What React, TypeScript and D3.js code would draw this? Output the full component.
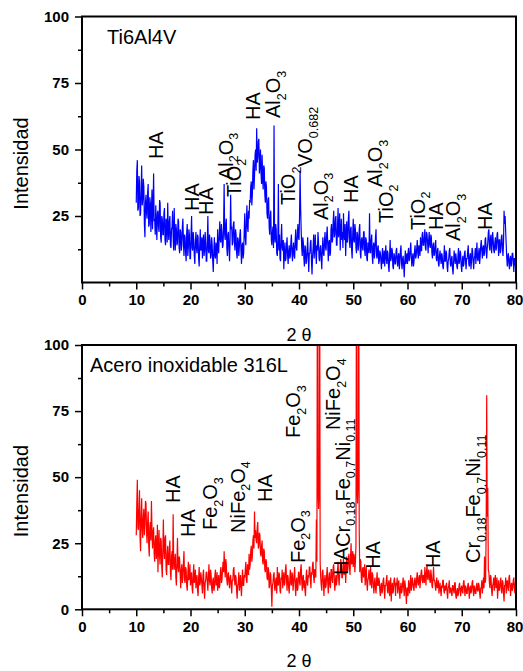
import React, { useEffect, useRef } from 'react';
import * as d3 from 'd3';

// 2θ grid of the digitised patterns
const THETA_START = 10;
const THETA_STEP = 0.1;

// Ti6Al4V intensities, one row per degree (10.0 .. 80.0)
const ti6al4v = [
  30, 42, 46, 27, 28, 40, 38, 25, 26, 35,
  44, 29, 31, 39, 36, 22, 17, 30, 33, 26,
  24, 34, 37, 21, 22, 32, 30, 19, 27, 35,
  20, 28, 41, 23, 24, 18, 29, 22, 16, 26,
  27, 21, 19, 31, 30, 17, 15, 25, 24, 18,
  18, 26, 28, 16, 14, 24, 22, 15, 30, 20,
  16, 23, 25, 14, 13, 20, 21, 27, 17, 12,
  28, 16, 12, 22, 20, 14, 15, 24, 23, 13,
  11, 20, 19, 12, 14, 21, 24, 15, 10, 18,
  17, 11, 8, 19, 22, 10, 13, 20, 18, 9,
  9, 18, 25, 13, 12, 19, 16, 10, 7, 15,
  19, 13, 11, 18, 17, 9, 6, 14, 20, 12,
  13, 17, 9, 15, 18, 10, 12, 19, 15, 8,
  8, 16, 25, 12, 11, 18, 16, 9, 10, 17,
  14, 8, 4, 12, 17, 10, 9, 15, 13, 7,
  20, 14, 11, 18, 23, 16, 15, 22, 19, 13,
  14, 21, 37, 18, 16, 22, 24, 13, 10, 18,
  19, 12, 8, 17, 33, 20, 21, 14, 15, 22,
  23, 15, 12, 20, 18, 11, 9, 17, 16, 10,
  13, 18, 20, 12, 7, 14, 15, 9, 11, 19,
  26, 17, 14, 23, 29, 21, 19, 27, 24, 31,
  30, 36, 38, 29, 33, 42, 46, 35, 40, 48,
  50, 42, 58, 45, 47, 53, 54, 41, 44, 50,
  41, 37, 48, 39, 35, 44, 43, 33, 30, 38,
  36, 26, 24, 31, 32, 21, 18, 25, 27, 16,
  14, 19, 21, 13, 59, 17, 15, 22, 20, 11,
  10, 16, 37, 12, 18, 9, 8, 17, 22, 13,
  12, 16, 5, 11, 15, 8, 9, 14, 17, 10,
  7, 12, 14, 9, 10, 15, 18, 11, 8, 13,
  15, 10, 9, 16, 20, 13, 12, 18, 22, 17,
  16, 25, 42, 28, 20, 13, 10, 17, 15, 9,
  6, 14, 13, 7, 8, 12, 17, 10, 4, 11,
  11, 15, 16, 8, 3, 10, 13, 18, 9, 14,
  18, 11, 7, 14, 12, 19, 15, 9, 8, 13,
  14, 9, 5, 12, 17, 11, 10, 16, 19, 13,
  12, 18, 21, 14, 8, 15, 16, 10, 11, 20,
  22, 15, 16, 23, 27, 17, 18, 24, 25, 14,
  14, 21, 28, 17, 20, 26, 12, 19, 24, 16,
  19, 13, 26, 18, 16, 22, 10, 17, 23, 15,
  17, 24, 27, 15, 13, 20, 21, 12, 9, 18,
  24, 16, 15, 22, 20, 13, 11, 19, 18, 12,
  14, 20, 22, 11, 9, 16, 17, 13, 12, 19,
  19, 12, 10, 17, 16, 9, 8, 15, 14, 11,
  26, 13, 11, 16, 18, 10, 7, 14, 15, 9,
  12, 17, 20, 10, 9, 13, 14, 7, 8, 12,
  11, 8, 5, 10, 13, 7, 9, 12, 6, 10,
  14, 9, 7, 12, 11, 6, 4, 10, 16, 8,
  9, 13, 12, 6, 5, 11, 10, 7, 7, 12,
  13, 8, 6, 10, 11, 5, 8, 12, 14, 7,
  5, 9, 10, 6, 2, 8, 12, 7, 9, 11,
  7, 11, 13, 8, 9, 12, 15, 10, 6, 9,
  11, 6, 8, 12, 14, 9, 10, 13, 16, 11,
  9, 14, 13, 10, 17, 12, 12, 18, 19, 14,
  14, 17, 20, 13, 12, 19, 18, 15, 11, 16,
  19, 14, 13, 18, 17, 11, 9, 14, 15, 10,
  11, 14, 16, 9, 8, 12, 13, 7, 6, 10,
  12, 9, 7, 11, 10, 6, 5, 9, 14, 8,
  8, 12, 11, 6, 4, 8, 9, 12, 13, 7,
  6, 9, 10, 5, 3, 8, 12, 9, 7, 11,
  9, 6, 5, 10, 13, 7, 8, 12, 11, 6,
  4, 8, 10, 6, 7, 11, 12, 8, 5, 9,
  9, 12, 14, 7, 6, 10, 11, 5, 8, 13,
  12, 8, 5, 9, 10, 13, 7, 11, 15, 9,
  8, 11, 13, 7, 10, 14, 16, 12, 9, 13,
  14, 10, 11, 16, 17, 12, 9, 13, 15, 19,
  20, 13, 12, 17, 18, 11, 14, 19, 16, 12,
  11, 15, 17, 12, 13, 18, 19, 14, 10, 16,
  16, 11, 12, 17, 18, 13, 10, 15, 27, 22,
  25, 19, 14, 9, 6, 10, 11, 7, 5, 9,
  10, 6, 7, 11, 11, 8, 4, 9, 9, 6,
  8,
];

// Acero inoxidable 316L intensities (10.0 .. 80.0)
const acero316L = [
  28, 40, 49, 31, 30, 38, 45, 27, 22, 36,
  42, 30, 27, 35, 38, 28, 32, 41, 40, 29,
  25, 33, 37, 24, 20, 31, 33, 26, 41, 30,
  23, 29, 31, 21, 18, 26, 28, 19, 22, 32,
  14, 24, 30, 20, 17, 27, 26, 16, 12, 23,
  34, 22, 19, 27, 28, 15, 13, 21, 24, 17,
  17, 23, 26, 14, 11, 20, 22, 15, 36, 18,
  15, 19, 21, 12, 9, 18, 27, 16, 14, 20,
  19, 13, 8, 15, 17, 10, 12, 18, 22, 11,
  10, 16, 15, 9, 7, 13, 18, 11, 12, 17,
  9, 12, 14, 8, 6, 13, 17, 10, 11, 15,
  8, 11, 13, 7, 5, 12, 16, 9, 10, 14,
  12, 9, 6, 13, 15, 8, 4, 10, 11, 14,
  14, 10, 7, 12, 17, 11, 9, 15, 13, 8,
  6, 11, 12, 7, 8, 13, 15, 9, 10, 14,
  7, 10, 13, 8, 9, 14, 16, 10, 11, 15,
  18, 14, 22, 16, 12, 19, 17, 11, 9, 13,
  14, 10, 8, 12, 13, 9, 6, 11, 11, 15,
  16, 11, 9, 13, 12, 7, 4, 9, 10, 14,
  7, 10, 13, 8, 5, 12, 15, 9, 9, 13,
  12, 15, 18, 11, 10, 17, 16, 13, 21, 15,
  17, 22, 24, 18, 20, 26, 28, 23, 37, 27,
  30, 26, 25, 31, 33, 23, 24, 29, 28, 21,
  20, 24, 26, 18, 17, 23, 22, 15, 14, 19,
  18, 12, 11, 16, 15, 8, 9, 14, 13, 7,
  1, 9, 10, 13, 14, 8, 7, 11, 12, 6,
  16, 10, 9, 14, 13, 7, 6, 12, 11, 15,
  8, 12, 14, 9, 10, 15, 17, 11, 7, 13,
  12, 8, 6, 11, 15, 10, 9, 14, 13, 7,
  10, 13, 16, 9, 5, 11, 12, 7, 8, 14,
  14, 10, 9, 15, 17, 11, 7, 12, 13, 8,
  11, 7, 5, 12, 15, 10, 9, 13, 12, 16,
  16, 11, 8, 14, 13, 17, 18, 12, 10, 15,
  15, 12, 34, 18, 150, 45, 38, 44, 150, 18,
  12, 9, 7, 14, 15, 10, 5, 11, 13, 8,
  9, 13, 16, 10, 6, 12, 14, 9, 8, 15,
  15, 11, 10, 16, 17, 12, 7, 10, 13, 9,
  11, 15, 18, 12, 9, 13, 14, 19, 17, 12,
  12, 16, 19, 13, 14, 18, 10, 15, 20, 14,
  15, 19, 21, 16, 13, 20, 25, 17, 18, 22,
  16, 21, 20, 14, 18, 24, 150, 45, 40, 48,
  150, 30, 14, 19, 18, 11, 10, 15, 16, 12,
  14, 17, 9, 13, 16, 10, 7, 11, 12, 15,
  12, 9, 16, 11, 8, 14, 13, 9, 6, 10,
  12, 8, 6, 11, 14, 9, 9, 12, 11, 7,
  5, 9, 10, 6, 7, 11, 12, 8, 4, 9,
  9, 11, 13, 7, 6, 10, 11, 5, 8, 12,
  3, 8, 10, 6, 7, 11, 12, 9, 5, 10,
  9, 12, 6, 9, 11, 7, 4, 8, 10, 6,
  7, 10, 12, 8, 5, 11, 9, 6, 2, 8,
  8, 5, 11, 9, 6, 10, 13, 7, 9, 12,
  10, 8, 7, 11, 12, 9, 8, 12, 14, 10,
  9, 12, 13, 8, 11, 14, 15, 11, 10, 13,
  12, 10, 16, 13, 9, 14, 17, 12, 11, 15,
  14, 11, 10, 15, 13, 9, 8, 12, 16, 11,
  11, 9, 7, 10, 12, 8, 9, 11, 6, 8,
  10, 7, 5, 9, 8, 11, 11, 7, 6, 9,
  7, 9, 10, 6, 4, 8, 9, 11, 6, 8,
  8, 6, 5, 9, 9, 7, 6, 10, 10, 5,
  4, 7, 8, 5, 6, 9, 10, 7, 5, 8,
  9, 7, 6, 10, 11, 8, 5, 9, 8, 6,
  6, 9, 10, 7, 4, 8, 9, 6, 7, 10,
  11, 7, 5, 9, 8, 6, 6, 9, 10, 7,
  7, 10, 9, 6, 4, 8, 8, 11, 6, 9,
  12, 8, 20, 10, 11, 30, 81, 35, 46, 15,
  14, 10, 8, 13, 12, 7, 5, 9, 10, 12,
  7, 11, 13, 8, 9, 12, 4, 8, 11, 7,
  8, 10, 12, 7, 6, 11, 10, 6, 3, 9,
  9, 12, 6, 10, 11, 8, 7, 12, 13, 9,
  5, 9, 10, 7, 8, 11, 12, 8, 6, 10,
  9,
];

const xTicks = [0, 10, 20, 30, 40, 50, 60, 70, 80];
const xMinorTicks = [5, 15, 25, 35, 45, 55, 65, 75];
const yTicksTop = [25, 50, 75, 100];
const yTicksBottom = [0, 25, 50, 75, 100];
const yMinorTicks = [12.5, 37.5, 62.5, 87.5];

// phase labels: 2θ and intensity where the rotated label starts
const tiPeaks = [
  { label: 'HA', theta: 14.9, y: 46.4 },
  { label: 'HA', theta: 21.6, y: 26.9 },
  { label: 'HA', theta: 24.1, y: 25.4 },
  { label: 'Al_{2}O_{3}', theta: 27.8, y: 38.5 },
  { label: 'TiO_{2}', theta: 29.3, y: 32.1 },
  { label: 'HA', theta: 32.8, y: 61.1 },
  { label: 'Al_{2}O_{3}', theta: 36.5, y: 61.8 },
  { label: 'TiO_{2}', theta: 39.3, y: 29.1 },
  { label: 'VO_{0.682}', theta: 42.4, y: 43.4 },
  { label: 'Al_{2}O_{3}', theta: 45.3, y: 23.5 },
  { label: 'HA', theta: 50.9, y: 29.9 },
  { label: 'Al_{2}O_{3}', theta: 55.3, y: 35.9 },
  { label: 'TiO_{2}', theta: 57.3, y: 22.4 },
  { label: 'TiO_{2}', theta: 63.2, y: 19.7 },
  { label: 'HA', theta: 66.5, y: 19.7 },
  { label: 'Al_{2}O_{3}', theta: 69.7, y: 15.6 },
  { label: 'HA', theta: 75.6, y: 19.7 },
];

const aceroPeaks = [
  { label: 'HA', theta: 18.1, y: 40.2 },
  { label: 'HA', theta: 20.8, y: 27.4 },
  { label: 'Fe_{2}O_{3}', theta: 24.9, y: 30.0 },
  { label: 'NiFe_{2}O_{4}', theta: 30.0, y: 28.9 },
  { label: 'HA', theta: 35.0, y: 40.6 },
  { label: 'Fe_{2}O_{3}', theta: 41.1, y: 17.5 },
  { label: 'Fe_{2}O_{3}', theta: 40.2, y: 64.8 },
  { label: 'NiFe_{2}O_{4}', theta: 47.6, y: 67.8 },
  { label: 'Cr_{0.18}Fe_{0.7}Ni_{0.11}', theta: 49.4, y: 23.6 },
  { label: 'HA', theta: 49.0, y: 13.0 },
  { label: 'HA', theta: 54.9, y: 15.3 },
  { label: 'HA', theta: 66.0, y: 15.6 },
  { label: 'Cr_{0.18}Fe_{0.7}Ni_{0.11}', theta: 73.4, y: 17.5 },
];

const panels = [
  { title: 'Ti6Al4V', values: ti6al4v, color: '#0000ff', peaks: tiPeaks, yTicks: yTicksTop, top: 16.5, bottom: 282.5, titleX: 107 },
  { title: 'Acero inoxidable 316L', values: acero316L, color: '#ff0000', peaks: aceroPeaks, yTicks: yTicksBottom, top: 345, bottom: 609.3, titleX: 90 },
];

const FONT = 'Arial, "Liberation Sans", Helvetica, sans-serif';

function splitLabel(label: string) {
  const out: { t: string; sub: boolean }[] = [];
  const re = /_\{([^}]*)\}|([^_]+)/g;
  let m: RegExpExecArray | null;
  while ((m = re.exec(label))) {
    if (m[1] !== undefined) out.push({ t: m[1], sub: true });
    else out.push({ t: m[2], sub: false });
  }
  return out;
}

function App() {
  const ref = useRef<SVGSVGElement>(null);

  useEffect(() => {
    const svg = d3.select(ref.current);
    svg.selectAll('*').remove();

    const x = d3.scaleLinear().domain([0, 80]).range([82, 516]);
    const defs = svg.append('defs');

    panels.forEach((p, i) => {
      const y = d3.scaleLinear().domain([0, 100]).range([p.bottom, p.top]);
      const g = svg.append('g');

      const clipId = `plot-clip-${i}`;
      defs.append('clipPath').attr('id', clipId)
        .append('rect')
        .attr('x', x(0)).attr('y', y(100))
        .attr('width', x(80) - x(0)).attr('height', y(0) - y(100));

      const line = d3.line<number>()
        .x((_, j) => x(THETA_START + j * THETA_STEP))
        .y(d => y(d));

      g.append('path')
        .datum(p.values)
        .attr('clip-path', `url(#${clipId})`)
        .attr('fill', 'none')
        .attr('stroke', p.color)
        .attr('stroke-width', 1.2)
        .attr('d', line);

      // x axis
      const xAxis = g.append('g')
        .attr('transform', `translate(0,${y(0)})`)
        .call(d3.axisBottom(x).tickValues(xTicks).tickSize(7).tickPadding(5).tickSizeOuter(0).tickFormat(d3.format('d')));
      g.append('g')
        .attr('transform', `translate(0,${y(0)})`)
        .call(d3.axisBottom(x).tickValues(xMinorTicks).tickSize(4).tickSizeOuter(0).tickFormat(() => ''));

      // y axis
      const yAxis = g.append('g')
        .attr('transform', `translate(${x(0)},0)`)
        .call(d3.axisLeft(y).tickValues(p.yTicks).tickSize(7).tickPadding(6).tickSizeOuter(0).tickFormat(d3.format('d')));
      g.append('g')
        .attr('transform', `translate(${x(0)},0)`)
        .call(d3.axisLeft(y).tickValues(yMinorTicks).tickSize(4).tickSizeOuter(0).tickFormat(() => ''));

      g.selectAll('.domain').remove();
      g.selectAll('.tick line').attr('stroke', '#000').attr('stroke-width', 1.5);
      [xAxis, yAxis].forEach(a => a.selectAll('text')
        .attr('fill', '#000')
        .style('font-family', FONT)
        .style('font-size', '15px')
        .style('font-weight', 'bold'));
      // keep the last x label inside the page
      xAxis.selectAll<SVGTextElement, number>('text').filter(d => d === 80).attr('dx', -1.5);

      // frame
      g.append('rect')
        .attr('x', x(0)).attr('y', y(100))
        .attr('width', x(80) - x(0)).attr('height', y(0) - y(100))
        .attr('fill', 'none')
        .attr('stroke', '#000')
        .attr('stroke-width', 2);

      // titles
      g.append('text')
        .attr('x', p.titleX).attr('y', y(100) + 27)
        .style('font-family', FONT).style('font-size', '20px')
        .text(p.title);

      g.append('text')
        .attr('transform', `translate(28,${(y(0) + y(100)) / 2 + 14}) rotate(-90)`)
        .attr('text-anchor', 'middle')
        .style('font-family', FONT).style('font-size', '20px')
        .text('Intensidad');

      g.append('text')
        .attr('x', (x(0) + x(80)) / 2).attr('y', y(0) + 58)
        .attr('text-anchor', 'middle')
        .style('font-family', FONT).style('font-size', '18px')
        .text('2 θ');

      // phase labels
      p.peaks.forEach(pk => {
        const t = g.append('text')
          .attr('transform', `translate(${x(pk.theta)},${y(pk.y)}) rotate(-90)`)
          .style('font-family', FONT).style('font-size', '20px');
        let inSub = false;
        splitLabel(pk.label).forEach(part => {
          const ts = t.append('tspan').text(part.t);
          if (part.sub && !inSub) ts.attr('dy', 5.5);
          if (!part.sub && inSub) ts.attr('dy', -5.5);
          if (part.sub) ts.style('font-size', '12.5px');
          inSub = part.sub;
        });
      });
    });
  }, []);

  return (
    <svg ref={ref} width={523} height={671}
      style={{ position: 'absolute', left: 0, top: 0, background: '#fff' }} />
  );
}

export default App;
